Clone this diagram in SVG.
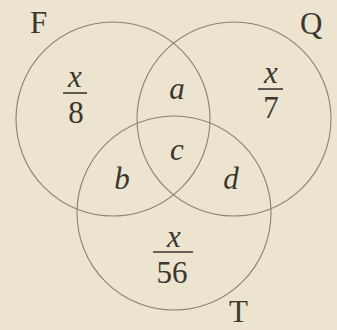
<svg xmlns="http://www.w3.org/2000/svg" width="337" height="330" viewBox="0 0 337 330">
<style>
.c{fill:none;stroke:#8a8272;stroke-width:1.1}
.t{font-family:"Liberation Serif","Times New Roman",serif;font-size:31px;fill:#3b3630}
.i{font-style:italic}
.m{text-anchor:middle}
.bar{stroke:#3b3630;stroke-width:1.6}
</style>
<rect width="337" height="330" fill="#ece4cf"/>
<g id="connectors"></g>
<g id="circleF"><circle class="c" cx="113" cy="119" r="97"/><text class="t" x="30" y="33">F</text></g>
<g id="circleQ"><circle class="c" cx="234" cy="119" r="97"/><text class="t" x="300" y="34">Q</text></g>
<g id="circleT"><circle class="c" cx="174" cy="213" r="97"/><text class="t" x="229" y="322">T</text></g>
<g id="regionF"><text class="t i m" x="75" y="87">x</text><line class="bar" x1="63" y1="93" x2="87" y2="93"/><text class="t m" x="76" y="123">8</text></g>
<g id="regionQ"><text class="t i m" x="271" y="83">x</text><line class="bar" x1="258" y1="89" x2="283" y2="89"/><text class="t m" x="271" y="118">7</text></g>
<g id="regionT"><text class="t i m" x="174" y="247">x</text><line class="bar" x1="153" y1="252" x2="193" y2="252"/><text class="t m" x="172" y="283">56</text></g>
<g id="regionA"><text class="t i m" x="177" y="99">a</text></g>
<g id="regionC"><text class="t i m" x="177" y="160">c</text></g>
<g id="regionB"><text class="t i m" x="122" y="189">b</text></g>
<g id="regionD"><text class="t i m" x="231" y="189">d</text></g>
</svg>
